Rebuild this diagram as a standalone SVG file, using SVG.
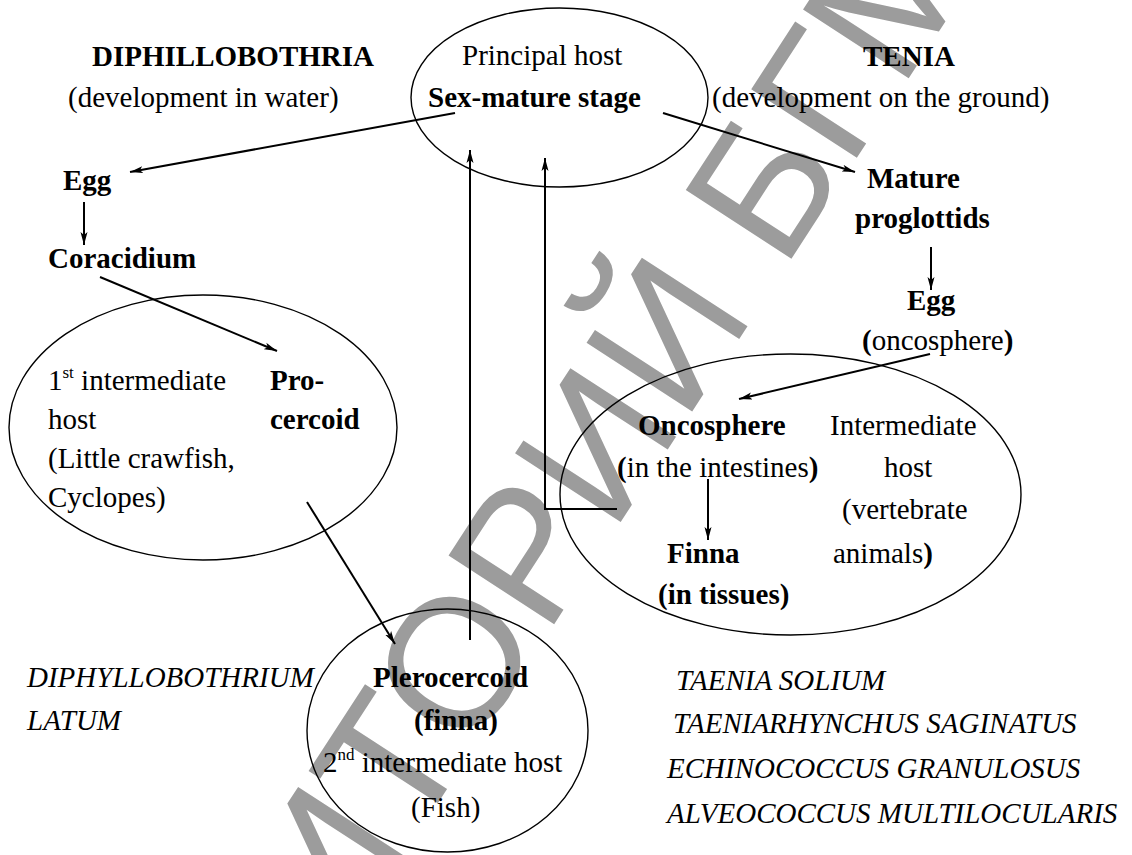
<svg xmlns="http://www.w3.org/2000/svg" width="1132" height="855" viewBox="0 0 1132 855">
<defs>
<marker id="ah" markerUnits="userSpaceOnUse" markerWidth="13" markerHeight="8" viewBox="0 0 13 8" refX="13" refY="4" orient="auto">
<path d="M0,0.5 L13,4 L0,7.5 L3,4 z" fill="#000"/>
</marker>
<style>
text{font-size:29px;fill:#000}
.b{font-weight:bold}
.i{font-style:italic}
.sup{font-size:17px}
.host{fill:none;stroke:#000;stroke-width:1.4}
.c{fill:none;stroke:#000;stroke-width:2;marker-end:url(#ah)}
.wm{font-family:'Liberation Sans',Arial,sans-serif;font-size:183px;fill:#9c9c9c}
</style>
</defs>
<rect width="1132" height="855" fill="#fff"/>

<text class="wm" transform="translate(412,843) rotate(-57)"><tspan text-anchor="end">РЕПОЗИ</tspan><tspan x="0">ТОРИЙ БГМУ</tspan></text>

<g font-family="'Liberation Serif','Times New Roman','DejaVu Serif',serif">
<g id="diphyllo-title">
<text class="b" x="92" y="66">DIPHILLOBOTHRIA</text>
<text x="68" y="107">(development in water)</text>
</g>
<g id="tenia-title">
<text class="b" x="863" y="66">TENIA</text>
<text x="712" y="107">(development on the ground)</text>
</g>

<g id="principal-host">
<ellipse class="host" cx="559.5" cy="97.5" rx="148.5" ry="89.5"/>
<text x="462" y="65">Principal host</text>
<text class="b" x="428" y="107">Sex-mature stage</text>
</g>

<g id="egg-left"><text class="b" x="63" y="190">Egg</text></g>
<g id="coracidium"><text class="b" x="48" y="268">Coracidium</text></g>

<g id="first-host">
<ellipse class="host" cx="203" cy="427.5" rx="194" ry="132.5"/>
<text x="48" y="390">1<tspan class="sup" dy="-12">st</tspan><tspan dy="12"> intermediate</tspan></text>
<text x="48" y="429">host</text>
<text x="48" y="468">(Little crawfish,</text>
<text x="48" y="507">Cyclopes)</text>
<text class="b" x="270" y="390">Pro-</text>
<text class="b" x="270" y="429">cercoid</text>
</g>

<g id="second-host">
<ellipse class="host" cx="447.5" cy="730.5" rx="140.5" ry="121.5"/>
<text class="b" x="373" y="687">Plerocercoid</text>
<text class="b" x="414" y="730">(finna)</text>
<text x="323" y="772">2<tspan class="sup" dy="-12">nd</tspan><tspan dy="12"> intermediate host</tspan></text>
<text x="411" y="817">(Fish)</text>
</g>

<g id="mature-proglottids">
<text class="b" x="867" y="188">Mature</text>
<text class="b" x="855" y="228">proglottids</text>
</g>
<g id="egg-right">
<text class="b" x="907" y="310">Egg</text>
<text x="862" y="350"><tspan class="b">(</tspan>oncosphere<tspan class="b">)</tspan></text>
</g>

<g id="intermediate-host">
<ellipse class="host" cx="790.5" cy="494.5" rx="230.5" ry="140.5"/>
<text class="b" x="638" y="435">Oncosphere</text>
<text x="617" y="477"><tspan class="b">(</tspan>in the intestines<tspan class="b">)</tspan></text>
<text class="b" x="667" y="563">Finna</text>
<text class="b" x="658" y="604">(in tissues)</text>
<text x="830" y="435">Intermediate</text>
<text x="884" y="477">host</text>
<text x="842" y="519">(vertebrate</text>
<text x="833" y="563">animals<tspan class="b">)</tspan></text>
</g>

<g id="species-diphyllo">
<text class="i" x="27" y="687">DIPHYLLOBOTHRIUM</text>
<text class="i" x="27" y="730">LATUM</text>
</g>
<g id="species-tenia">
<text class="i" x="676" y="690">TAENIA SOLIUM</text>
<text class="i" x="673" y="733">TAENIARHYNCHUS SAGINATUS</text>
<text class="i" x="667" y="778">ECHINOCOCCUS GRANULOSUS</text>
<text class="i" x="667" y="823">ALVEOCOCCUS MULTILOCULARIS</text>
</g>
</g>

<g id="connectors">
<line class="c" x1="455" y1="113" x2="130" y2="172"/>
<line class="c" x1="84" y1="202" x2="84" y2="245"/>
<line class="c" x1="100" y1="277" x2="277" y2="351"/>
<line class="c" x1="307" y1="502" x2="395" y2="644"/>
<line class="c" x1="470" y1="640" x2="470" y2="150"/>
<polyline class="c" points="617,509 545,509 545,158"/>
<line class="c" x1="663" y1="113" x2="855" y2="172"/>
<line class="c" x1="931" y1="247" x2="931" y2="290"/>
<line class="c" x1="930" y1="354" x2="739" y2="399"/>
<line class="c" x1="708" y1="479" x2="708" y2="540"/>
</g>
</svg>
